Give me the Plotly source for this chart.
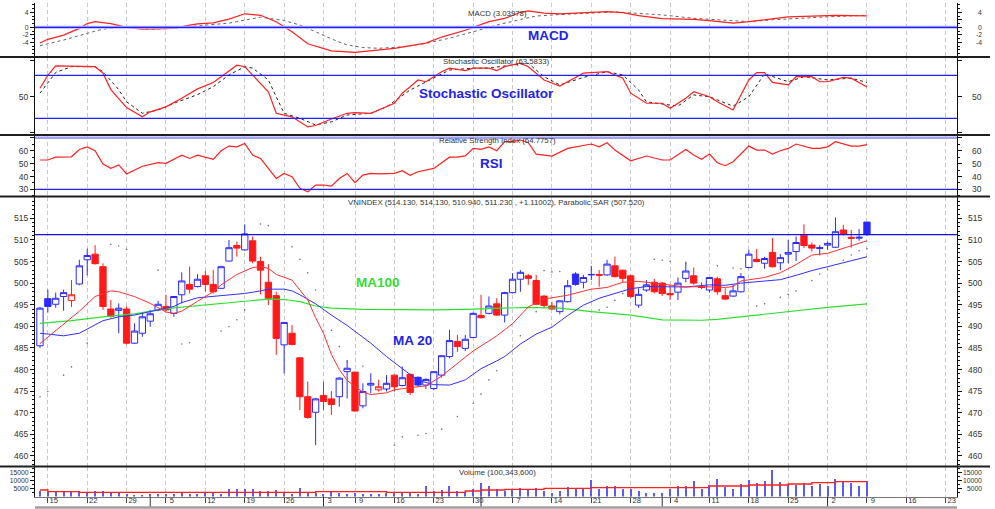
import numpy as np
import pandas as pd
import plotly.graph_objects as go

# ---------------------------------------------------------------- data
opens = [485.5, 496.4, 495.1, 496.9, 496.0, 499.8, 505.4, 506.7, 503.8, 494.0,
         493.7, 494.0, 486.1, 488.4, 491.2, 493.8, 494.6, 493.0, 497.3, 499.7,
         499.2, 501.7, 499.7, 498.8, 505.1, 508.7, 507.7, 509.8, 505.0, 500.2,
         497.1, 485.7, 488.4, 482.7, 473.7, 470.1, 474.0, 473.2, 473.7, 479.5,
         479.4, 471.6, 476.4, 475.3, 475.5, 478.7, 476.3, 478.9, 478.2, 476.4,
         475.6, 478.7, 483.0, 486.5, 484.9, 487.4, 492.5, 493.0, 495.2, 492.6,
         497.8, 500.9, 501.7, 500.6, 497.0, 494.7, 493.4, 495.7, 502.1, 500.2,
         501.9, 502.0, 501.9, 504.0, 503.0, 501.7, 494.9, 498.4, 500.2, 500.0,
         497.6, 497.9, 501.1, 501.7, 499.1, 498.4, 501.0, 497.1, 497.0, 498.0,
         503.6, 505.5, 504.6, 507.1, 504.7, 506.7, 507.3, 511.1, 508.8, 508.0,
         508.8, 508.3, 512.3, 510.6, 510.4, 514.13]
highs = [494.5, 498.5, 497.8, 498.5, 500.7, 505.4, 508.0, 508.8, 504.6, 496.1,
         495.3, 494.6, 490.7, 493.2, 493.8, 495.9, 497.3, 497.0, 502.5, 503.8,
         502.1, 502.8, 503.0, 504.0, 510.0, 509.6, 513.6, 510.8, 506.1, 504.4,
         498.0, 491.0, 490.3, 482.8, 477.2, 473.4, 477.2, 475.0, 478.3, 482.2,
         479.5, 476.8, 479.1, 477.6, 478.7, 478.8, 480.7, 479.0, 478.4, 478.0,
         479.6, 483.3, 489.2, 488.0, 488.0, 493.2, 497.3, 496.9, 496.5, 498.0,
         502.3, 503.0, 502.1, 501.9, 497.2, 495.7, 496.0, 500.7, 502.5, 501.9,
         504.0, 503.0, 505.4, 506.1, 503.1, 502.0, 498.8, 500.7, 501.0, 500.3,
         499.6, 501.3, 505.0, 503.6, 500.2, 501.4, 501.5, 498.8, 499.6, 502.3,
         507.7, 507.9, 506.1, 510.4, 506.7, 510.0, 510.8, 513.6, 509.4, 508.8,
         509.6, 515.2, 513.5, 512.3, 512.5, 514.13]
lows = [485.0, 493.2, 494.3, 493.6, 494.5, 499.5, 501.8, 504.3, 493.8, 492.0,
        488.4, 485.8, 485.9, 487.6, 489.9, 493.5, 493.5, 492.2, 495.3, 497.6,
        499.0, 498.0, 497.6, 498.6, 505.0, 506.1, 507.5, 504.6, 497.4, 494.9,
        483.4, 479.1, 485.6, 470.6, 468.6, 462.5, 470.6, 469.5, 471.4, 473.3,
        470.2, 471.0, 474.5, 474.9, 474.9, 474.9, 476.1, 474.1, 476.0, 475.5,
        475.2, 478.1, 482.6, 484.1, 484.3, 487.3, 491.8, 492.8, 492.4, 490.9,
        497.6, 498.0, 499.6, 494.9, 494.2, 493.8, 492.8, 495.5, 499.4, 498.8,
        500.7, 499.2, 501.7, 501.3, 500.2, 496.6, 494.3, 498.0, 497.6, 497.0,
        496.1, 496.1, 500.2, 499.6, 498.6, 497.8, 497.3, 496.1, 496.8, 497.8,
        503.4, 504.8, 503.3, 503.6, 503.0, 504.6, 505.1, 508.1, 507.3, 506.4,
        507.7, 508.1, 511.0, 508.2, 509.8, 510.94]
closes = [494.2, 494.6, 496.5, 497.8, 497.3, 504.0, 506.4, 504.5, 494.6, 492.3,
          494.2, 486.1, 488.9, 492.2, 492.9, 495.1, 493.8, 496.9, 500.5, 498.6,
          500.9, 499.7, 498.0, 503.8, 508.2, 508.1, 511.4, 505.1, 503.0, 496.5,
          487.2, 490.9, 485.8, 473.7, 468.9, 473.2, 472.6, 471.9, 478.0, 480.3,
          470.4, 474.9, 476.8, 476.0, 476.8, 476.0, 478.1, 474.7, 476.4, 477.7,
          479.5, 483.2, 486.7, 485.3, 487.0, 493.0, 492.0, 494.7, 492.6, 497.8,
          500.9, 502.5, 501.1, 495.1, 494.8, 494.0, 495.9, 499.4, 499.7, 501.3,
          502.0, 501.8, 504.4, 501.5, 501.1, 496.9, 497.4, 499.6, 498.0, 497.6,
          497.3, 500.0, 502.8, 500.0, 499.0, 501.3, 498.0, 496.3, 498.2, 501.5,
          506.7, 505.0, 505.7, 503.8, 505.9, 507.1, 509.4, 508.7, 508.1, 508.2,
          509.2, 511.9, 511.3, 510.4, 510.6, 511.23]
volumes = [4110, 3060, 3060, 3060, 4110, 3060, 3060, 3690, 4110, 3060,
           2640, 2000, 1580, 1580, 2000, 2000, 2000, 2000, 2640, 2000,
           2000, 2640, 2640, 2000, 5170, 5170, 5170, 5170, 4110, 4110,
           4540, 2640, 2000, 5800, 3060, 2640, 2000, 3060, 2640, 2000,
           2640, 2000, 2000, 2000, 2640, 3060, 3060, 2640, 2000, 7280,
           3690, 4540, 7280, 3690, 2640, 5170, 8760, 6650, 5170, 4110,
           5170, 5800, 5170, 5800, 4110, 2640, 4110, 6230, 5800, 5170,
           10450, 5170, 7280, 7280, 5170, 5170, 3690, 2640, 2640, 2640,
           5170, 6650, 6650, 10020, 5170, 7910, 11500, 6230, 5170, 8330,
           10870, 8760, 10020, 16780, 9390, 7910, 7910, 8760, 7280, 8330,
           6650, 11500, 10020, 8760, 6650, 10034]
vol_ma_x = [0, 1, 5, 35, 44, 54, 56, 59, 64, 70, 85, 90, 95, 98, 101, 105]
vol_ma_v = [4110, 3060, 2640, 3060, 2640, 3500, 4110, 4540, 5170, 5600, 6650, 7280, 7910, 8760, 9390, 9390]

ma_fast_x = [0, 2, 4, 5, 7, 9, 10, 12, 14, 16, 17, 18, 20, 22, 23, 25, 27, 28, 29, 30,
             32, 33, 34, 35, 36, 37, 38, 39, 40, 41, 42, 44, 45, 47, 49, 51, 53, 55, 57, 58,
             60, 62, 64, 67, 70, 72, 74, 76, 78, 80, 82, 84, 87, 88, 89, 92, 94, 96, 98, 100,
             102, 104, 105]
ma_fast_v = [486, 489, 491.8, 493.5, 496.9, 498.2, 498, 496.9, 495.3, 493.3,
             493, 493.5, 495.8, 498, 499.6, 502, 503.6, 503.8, 503.4, 502,
             500.7, 498.4, 496.1, 492, 488.4, 483.5, 480, 477.5, 476, 474.8,
             474.2, 474.6, 475.3, 475.8, 476.2, 478.5, 481.4, 484.3, 486.6, 487.8,
             490.6, 494.5, 496.3, 497.2, 498.6, 499, 500.2, 500.4, 500, 499.5,
             499.1, 499.2, 499, 499.2, 500.5, 501.3, 502.4, 504.3, 506.5, 506.9,
             508.1, 509.3, 509.8]
ma20_x = [0, 1, 3, 5, 6, 8, 10, 12, 14, 17, 18, 20, 23, 26, 28, 29, 31, 32, 33, 35,
          37, 39, 42, 44, 46, 48, 50, 52, 54, 56, 58, 59, 61, 63, 65, 67, 69, 71, 73, 75,
          77, 79, 82, 85, 87, 89, 92, 94, 96, 98, 100, 102, 105]
ma20_v = [488.4, 488.2, 487.8, 488.4, 489.4, 491.3, 492.2, 492.6, 493.4, 494.6,
          495.5, 496.6, 497.1, 497.6, 498.2, 498.6, 498.6, 498.2, 497.3, 495.2,
          492.6, 490.2, 486.1, 483.0, 480.2, 477.5, 476.5, 476.4, 477.6, 480.2,
          482.0, 483.0, 485.9, 488.2, 489.8, 492.5, 494.9, 496.5, 497.6, 498.7,
          499.2, 499.1, 499.1, 499.6, 499.5, 500.0, 500.4, 500.8, 501.8, 502.9,
          503.8, 504.7, 506.1]
ma100_x = [0, 4, 8, 12, 16, 21, 25, 29, 31, 33, 35, 37, 41, 46, 50, 54, 58, 62, 66, 70,
           75, 79, 84, 86, 88, 91, 95, 100, 105]
ma100_v = [490.7, 491.3, 492.2, 492.9, 494.1, 494.9, 495.7, 496.3, 496.2, 495.7,
           494.7, 494.2, 493.9, 493.8, 493.8, 493.9, 494.1, 494.4, 494.2, 493.4,
           492.6, 491.5, 491.4, 491.6, 492.0, 492.6, 493.4, 494.4, 495.2]
sar_x = [0, 1, 3, 4, 6, 9, 10, 11, 15, 18, 19, 23, 24, 25, 26, 28, 29, 32, 33, 34,
         35, 37, 38, 39, 41, 45, 46, 48, 49, 51, 53, 55, 56, 57, 58, 61, 63, 64, 65, 66,
         71, 72, 73, 74, 78, 79, 80, 82, 86, 88, 89, 91, 92, 94, 95, 96, 98, 99, 100, 102,
         103, 104, 105]
sar_v = [473.7, 474.9, 478.7, 480.6, 486.1, 509.0, 508.6, 507.8, 503.0, 485.9,
         486.2, 488.9, 489.9, 491.5, 493.8, 513.7, 513.3, 508.4, 505.5, 502.4,
         498.4, 489.1, 485.3, 481.8, 480.8, 462.5, 464.4, 464.8, 465.2, 466.2,
         469.1, 472.2, 474.3, 477.6, 479.7, 487.8, 493.4, 502.9, 502.6, 502.7,
         493.8, 494.4, 496.0, 497.6, 505.5, 505.3, 505.0, 504.5, 504.0, 503.5,
         503.3, 494.7, 495.2, 496.7, 497.4, 498.2, 500.6, 502.1, 503.2, 505.3,
         506.5, 507.5, 508.0]

macd_x = [0, 1, 3, 5, 6, 7, 9, 11, 13, 15, 17, 19, 20, 22, 24, 26, 28, 30, 31, 32,
          34, 36, 37, 40, 43, 45, 49, 51, 54, 55, 57, 59, 61, 62, 64, 66, 70, 72, 74, 76,
          79, 83, 85, 88, 90, 92, 95, 98, 101, 105]
macd_v = [-4.2, -3.2, -2.1, -0.3, 1.0, 1.5, 1.0, 0.0, -0.5, -0.5,
          -0.3, 0.6, 0.9, 1.2, 2.2, 3.6, 3.2, 1.5, 0.2, -1.2,
          -4.4, -5.8, -6.3, -6.7, -6.0, -5.6, -4.2, -2.6, -0.8, 0.0,
          1.5, 2.4, 4.0, 4.4, 3.8, 3.6, 3.9, 4.2, 3.9, 3.1,
          2.3, 2.1, 1.8, 1.1, 1.5, 2.0, 2.8, 3.0, 3.2, 3.04]
macd_sig_x = [0, 1, 3, 6, 8, 11, 14, 17, 20, 24, 26, 28, 31, 33, 35, 37, 39, 41, 43, 46,
              49, 52, 55, 58, 61, 63, 66, 70, 73, 76, 79, 83, 87, 90, 93, 96, 100, 105]
macd_sig_v = [-4.9, -4.4, -3.4, -1.6, -0.5, 0.2, -0.5, -0.3, 0.4, 1.1,
              2.0, 2.7, 1.8, 0.6, -1.2, -3.1, -4.7, -5.4, -5.6, -5.2,
              -4.3, -2.9, -1.2, 0.6, 2.1, 3.0, 3.4, 3.7, 4.1, 3.7,
              3.3, 2.4, 1.8, 1.5, 2.0, 2.4, 2.8, 3.2]
stoch_k_x = [0, 1, 2, 3, 5, 7, 8, 9, 11, 13, 14, 16, 18, 20, 22, 24, 25, 26, 27, 29,
             30, 31, 32, 34, 35, 37, 39, 40, 42, 45, 46, 47, 48, 49, 51, 52, 54, 55, 57, 58,
             59, 61, 62, 64, 66, 67, 69, 72, 74, 75, 77, 79, 80, 82, 83, 85, 86, 88, 90, 91,
             92, 93, 95, 96, 98, 99, 100, 102, 103, 105]
stoch_k_v = [62, 80, 93, 93, 93, 92, 83, 60, 35, 22,
             29, 36, 48, 61, 70, 86, 94, 92, 80, 57,
             27, 24, 22, 8, 10, 19, 27, 28, 27, 41,
             55, 64, 73.5, 71, 85, 90, 86.5, 90, 90, 86.5,
             92, 97, 92, 73.5, 65, 71, 83, 85, 76, 55,
             41, 41, 34, 48, 57, 50, 43, 31.6, 73.5, 83.7,
             83.7, 70, 66.5, 78, 78, 71, 71, 77, 76, 63.6]
stoch_d_x = [0, 1, 2, 4, 7, 8, 10, 11, 13, 15, 17, 20, 22, 24, 26, 27, 29, 30, 31, 33,
             35, 37, 39, 42, 44, 47, 50, 52, 55, 57, 60, 62, 64, 66, 69, 72, 74, 76, 77, 79,
             81, 83, 85, 88, 90, 92, 95, 97, 100, 103, 105]
stoch_d_v = [55, 69, 84, 92, 92, 85, 60, 43, 27, 31.6,
             41, 53, 64, 80.5, 92, 90, 73.5, 50, 27, 20,
             10.7, 15, 24.6, 27, 36, 59.5, 76, 87.4, 90, 90,
             94.4, 96.7, 78, 66.5, 77, 85, 80.5, 59.5, 43, 40,
             37, 52.6, 50, 37, 50, 82, 71, 78, 73.5, 76, 70]
rsi_x = [0, 1, 2, 3, 4, 5, 6, 7, 8, 9, 10, 11, 13, 15, 16, 18, 19, 20, 22, 23,
         24, 25, 26, 27, 28, 29, 30, 31, 32, 33, 34, 35, 36, 37, 38, 39, 40, 41, 42, 43,
         45, 46, 47, 48, 50, 52, 53, 54, 55, 56, 57, 58, 59, 60, 61, 62, 63, 65, 67, 70,
         71, 72, 73, 75, 77, 79, 80, 82, 83, 84, 85, 86, 87, 88, 90, 91, 92, 93, 94, 95,
         96, 98, 99, 100, 101, 103, 104, 105]
rsi_v = [52.8, 52.8, 55, 55.3, 55.3, 61, 63, 60, 49.7, 46.3, 49, 42, 48, 50.7, 50.2, 56.6, 54, 56.6, 53.3, 60,
         63.6, 63, 65.7, 56.6, 54, 46.3, 38.5, 42.4, 39.8, 30.8, 28.2, 33.4, 33.4, 32.6, 38.5, 42.4, 35.2, 41.1, 42.4, 42,
         42.4, 44.5, 41, 43.7, 46.3, 55, 55, 56, 61.8, 61, 63, 60, 67, 67, 68.3, 66.2, 57.4, 55.9, 61.8, 65.2,
         63, 66.2, 60.5, 52.2, 55.9, 52.8, 52.8, 61, 56.6, 53.3, 57.4, 50.7, 48.4, 51.5, 63.6, 60.5, 60.5, 57.4, 60, 61.8,
         65.2, 61.8, 61.8, 63, 67, 63.6, 63.6, 64.8]

price_ticks = [460, 465, 470, 475, 480, 485, 490, 495, 500, 505, 510, 515]
macd_ticks = [4, 2, 0, -2, -4]
macd_tick_text = ["4", "", "0", "-2", "-4"]
stoch_ticks = [0, 50, 100]
stoch_tick_text = ["", "50", ""]
rsi_ticks = [30, 40, 50, 60, 70]
rsi_tick_text = ["30", "40", "50", "60", ""]
vol_ticks = [5000, 10000, 15000]
vol_tick_text = ["5000", "10000", "15000"]
resistance_level = 511.23

# trading calendar (2 Sep 2013 holiday) incl. a few future sessions on the axis
dates = pd.bdate_range("2013-07-12", "2013-12-24")
dates = dates[dates != pd.Timestamp("2013-09-02")]
N = len(closes)
week_ticks = [k for k in range(1, len(dates))
              if dates[k].isocalendar()[1] != dates[k - 1].isocalendar()[1]]
week_labels = [str(dates[k].day) for k in week_ticks]
month_ticks = [k for k in range(1, len(dates)) if dates[k].month != dates[k - 1].month]

# ---------------------------------------------------------------- geometry helpers
W, H = 995, 509
def fx(p):
    return p / W
def fy(p):
    return 1 - p / H

XDOM = [fx(35), fx(957)]
XR = [-0.63, 116.43]
NARROW = "Liberation Sans Narrow, Liberation Sans, Arial, sans-serif"
TICKFONT = dict(family=NARROW, size=8.5, color="#333333")
SMALLTICK = dict(family=NARROW, size=6.8, color="#333333")
BLUE = "#2a2aff"
RED = "#ff1a1a"
TXT_BLUE = "#2323e8"
TXT_GREEN = "#33dd33"

fig = go.Figure()

# ---------------------------------------------------------------- candles
groups = {}
for i in range(N):
    up = (i == 0) or (closes[i] >= closes[i - 1])
    hollow = closes[i] >= opens[i]
    groups.setdefault((up, hollow), []).append(i)
for (up, hollow), ids in groups.items():
    col = BLUE if up else RED
    style = dict(line=dict(color=col, width=1), fillcolor="white" if hollow else col)
    fig.add_trace(go.Candlestick(
        x=ids, open=[opens[i] for i in ids], high=[highs[i] for i in ids],
        low=[lows[i] for i in ids], close=[closes[i] for i in ids],
        increasing=style, decreasing=style, whiskerwidth=0,
        xaxis="x", yaxis="y", hoverinfo="skip", showlegend=False))


def add_line(xs, ys, k, color, width=1.0, dash=None, shape="linear"):
    fig.add_trace(go.Scatter(
        x=xs, y=ys, xaxis="x" if k == 1 else f"x{k}", yaxis="y" if k == 1 else f"y{k}",
        mode="lines", line=dict(color=color, width=width, dash=dash, shape=shape),
        hoverinfo="skip", showlegend=False))

add_line(ma100_x, ma100_v, 1, "#2ee02e", 1.2)
add_line(ma20_x, ma20_v, 1, "#3030ff", 1.0)
add_line(ma_fast_x, ma_fast_v, 1, "#ff3030", 1.0)
fig.add_trace(go.Scatter(x=sar_x, y=sar_v, xaxis="x", yaxis="y", mode="markers",
                         marker=dict(size=1.6, color="#707070", line=dict(width=0)),
                         hoverinfo="skip", showlegend=False))

add_line(macd_sig_x, macd_sig_v, 2, "#666666", 1.0, dash="dot")
add_line(macd_x, macd_v, 2, "#ff2020", 1.2)
add_line(stoch_d_x, stoch_d_v, 3, "#222222", 1.0, dash="dot")
add_line(stoch_k_x, stoch_k_v, 3, "#ff2020", 1.2)
add_line(rsi_x, rsi_v, 4, "#ff2020", 1.2)

fig.add_trace(go.Bar(x=list(range(N)), y=volumes, width=0.14, xaxis="x5", yaxis="y5",
                     marker=dict(color="#5a5aff", line=dict(width=0)),
                     hoverinfo="skip", showlegend=False))
add_line(vol_ma_x, vol_ma_v, 5, "#ff2020", 1.4, shape="hv")

# ---------------------------------------------------------------- axes
panels = {
    1: dict(top=196.5, bot=466.5, rng=[457.55, 520.05], tv=price_ticks,
            tt=[str(v) for v in price_ticks], minor=list(range(458, 520)), font=TICKFONT),
    2: dict(top=3, bot=57, rng=[-7.92, 6.48], tv=macd_ticks, tt=macd_tick_text,
            minor=list(range(-7, 7)), font=SMALLTICK),
    3: dict(top=57, bot=135, rng=[-3.3, 105.5], tv=stoch_ticks, tt=stoch_tick_text,
            minor=[], font=TICKFONT),
    4: dict(top=135, bot=196.5, rng=[24.5, 72.2], tv=rsi_ticks, tt=rsi_tick_text,
            minor=[25, 35, 45, 55, 65], font=TICKFONT),
    5: dict(top=466.5, bot=496.5, rng=[0, 18987], tv=vol_ticks, tt=vol_tick_text,
            minor=[2500, 7500, 12500, 17500], font=SMALLTICK),
}

layout = dict(width=W, height=H, margin=dict(l=0, r=0, t=0, b=0),
              paper_bgcolor="white", plot_bgcolor="white", showlegend=False,
              hovermode=False, boxgap=0.2, boxgroupgap=0, bargap=0)
annotations = []
for k, p in panels.items():
    sx = "" if k == 1 else str(k)
    xa = dict(domain=XDOM, range=XR, anchor="y" + sx, tickmode="array",
              tickvals=week_ticks, ticktext=week_labels, showgrid=True,
              gridcolor="#c8c8c8", griddash="4px,3px", gridwidth=1, zeroline=False,
              showline=False, showticklabels=False, ticks="", fixedrange=True)
    if k != 1:
        xa["matches"] = "x"
    if k == 1:
        xa["rangeslider"] = dict(visible=False)
    if k == 5:
        xa.update(showticklabels=True, ticks="outside", ticklen=5, tickcolor="#444444",
                  tickfont=dict(family=NARROW, size=7.6, color="#333333"),
                  ticklabelshift=6, ticklabelstandoff=-9,
                  showline=True, linecolor="#777777", linewidth=1)
    layout["xaxis" + sx] = xa
    dom = [fy(p["bot"]), fy(p["top"])]
    common = dict(range=p["rng"], tickmode="array", tickvals=p["tv"], ticks="outside",
                  ticklen=4, tickcolor="#111111", showline=True, linecolor="#111111",
                  linewidth=1, showgrid=False, zeroline=False, fixedrange=True,
                  minor=dict(tickmode="array", tickvals=p["minor"], ticks="outside",
                             ticklen=2, tickcolor="#111111", showgrid=False))
    layout["yaxis" + sx] = dict(domain=dom, anchor="x" + sx, side="left",
                                ticktext=p["tt"], tickfont=p["font"], **common)
    layout[f"yaxis{k + 5}"] = dict(overlaying="y" + sx, anchor="x" + sx, side="right",
                                   showticklabels=False, **common)
    fig.add_trace(go.Scatter(x=[0], y=[p["rng"][0]], xaxis="x" + sx, yaxis=f"y{k + 5}",
                             mode="markers", marker=dict(opacity=0), hoverinfo="skip",
                             showlegend=False))
    for v, t in zip(p["tv"], p["tt"]):
        if t:
            annotations.append(dict(x=fx(983), y=v, xref="paper", yref="y" + sx, text=t,
                                    xanchor="right", yanchor="middle", showarrow=False,
                                    font=p["font"], borderpad=0))

# ---------------------------------------------------------------- shapes
shapes = []
def hline(yref, y, color, width):
    shapes.append(dict(type="line", xref="paper", x0=XDOM[0], x1=XDOM[1], yref=yref,
                       y0=y, y1=y, line=dict(color=color, width=width)))

hline("y2", 0, "#b4b4ff", 3)
hline("y2", 0, "#2020ff", 1.2)
hline("y3", 80, "#2020ff", 1.3)
hline("y3", 20, "#2020ff", 1.3)
hline("y4", 70, "#a0a0ff", 2.5)
hline("y4", 30, "#2020ff", 1.3)
hline("y", resistance_level, "#1414e6", 1.4)

for py_ in [57, 135, 196.5, 466.5]:
    shapes.append(dict(type="line", xref="paper", x0=0, x1=fx(990), yref="paper",
                       y0=fy(py_), y1=fy(py_), line=dict(color="#1e1e1e", width=2)))
for k in month_ticks:
    shapes.append(dict(type="line", xref="x5", x0=k, x1=k, yref="paper", y0=fy(508),
                       y1=fy(496.5), line=dict(color="#333333", width=1)))
shapes.append(dict(type="rect", xref="paper", x0=XDOM[0], x1=XDOM[1], yref="paper",
                   y0=fy(508.7), y1=fy(506.2), fillcolor="#a0a0a0", line=dict(width=0)))

# ---------------------------------------------------------------- texts
def label(text, cx, cy, size, color, bold=False):
    annotations.append(dict(x=fx(cx), y=fy(cy), xref="paper", yref="paper",
                            text=f"<b>{text}</b>" if bold else text, showarrow=False,
                            xanchor="center", yanchor="middle",
                            font=dict(family=NARROW, size=size, color=color)))

label(f"MACD ({macd_v[-1] - 0.00022:.5f})", 497, 13.5, 7.8, "#333333")
label("MACD", 548, 35, 13.5, TXT_BLUE, True)
label("Stochastic Oscillator (63.5833)", 496, 62, 7.8, "#333333")
label("Stochastic Oscillator", 486.5, 94, 13.5, TXT_BLUE, True)
label("Relative Strength Index (64.7757)", 497, 140.5, 7.8, "#333333")
label("RSI", 491.5, 163.5, 13.5, TXT_BLUE, True)
label(f"VNINDEX ({opens[-1]:.3f}, {highs[-1]:.3f}, {lows[-1]:.3f}, {closes[-1]:.3f} , +1.11002), "
      f"Parabolic SAR (507.520)", 496, 202, 7.8, "#333333")
label("MA100", 378, 282, 13.5, TXT_GREEN, True)
label("MA 20", 412.5, 340.5, 13.5, TXT_BLUE, True)
label("Volume (100,343,600)", 497, 472, 7.8, "#333333")

layout["shapes"] = shapes
layout["annotations"] = annotations
fig.update_layout(**layout)
fig.write_html("out.html")
